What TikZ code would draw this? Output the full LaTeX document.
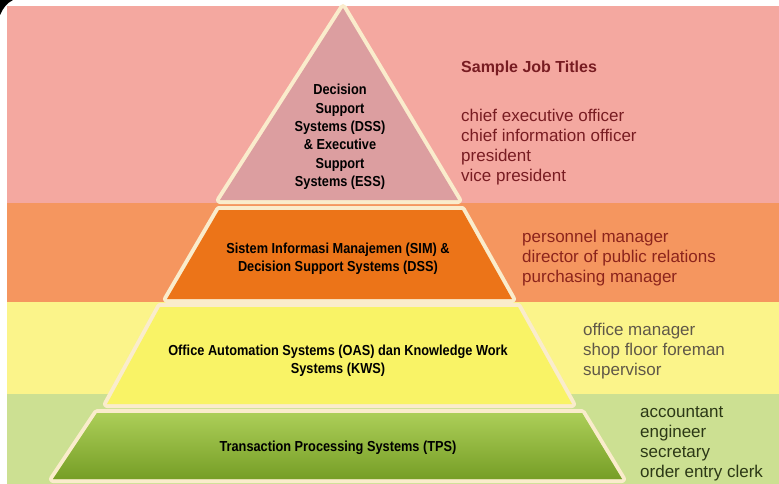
\documentclass[tikz,border=0pt]{standalone}
\usepackage{fontspec}
\setmainfont{Liberation Sans}
\newfontfamily\pyrfont{Liberation Sans}[FakeStretch=0.88]
\definecolor{bandpink}{RGB}{244,168,160}
\definecolor{bandorange}{RGB}{245,150,95}
\definecolor{bandyellow}{RGB}{251,244,138}
\definecolor{bandgreen}{RGB}{204,224,146}
\definecolor{halo}{RGB}{250,236,204}
\definecolor{levpink}{RGB}{220,158,160}
\definecolor{levorange}{RGB}{236,116,24}
\definecolor{levyellow}{RGB}{249,243,102}
\definecolor{levgreentop}{RGB}{172,206,88}
\definecolor{levgreenbot}{RGB}{118,158,38}
\definecolor{txtpink}{RGB}{120,28,34}
\definecolor{txtorange}{RGB}{140,36,28}
\definecolor{txtyellow}{RGB}{96,88,72}
\definecolor{txtgreen}{RGB}{44,56,22}
\begin{document}
\begin{tikzpicture}[
      x=1pt, y=-1pt,
      tier/.style={preaction={draw=halo,line width=8pt,line join=round},fill=#1},
      sys/.style={font=\pyrfont\bfseries\fontsize{14.5}{18.4}\selectfont,align=center,text=black,inner sep=0pt},
      job/.style={font=\fontsize{17}{20}\selectfont,align=left,anchor=west,inner sep=0pt},
      ]
      \useasboundingbox (0,0) rectangle (779,484);
      \fill[bandpink] (7,6) rectangle (779,203);
      \fill[bandorange] (7,203) rectangle (779,302);
      \fill[bandyellow] (7,302) rectangle (779,394);
      \fill[bandgreen] (7,394) rectangle (779,484);
      \fill[black] (0,0) -- (13,0) .. controls (7,3) and (3,8) .. (0,15) -- cycle;

      \path[tier=levpink] (343,8) -- (458,200) -- (220,200) -- cycle;
      \path[tier=levorange] (219,210) -- (462,210) -- (512,299) -- (167,299) -- cycle;
      \path[tier=levyellow] (160,307) -- (518,307) -- (572,404) -- (107,404) -- cycle;
      \path[tier=levgreentop,top color=levgreentop,bottom color=levgreenbot]
        (97,413) -- (582,413) -- (622,479) -- (53,479) -- cycle;

      \node[sys] (ess) at (340,137) {Decision\\Support\\Systems (DSS)\\\& Executive\\Support\\Systems (ESS)};
      \node[sys] (sim) at (338,259) {Sistem Informasi Manajemen (SIM) \&\\Decision Support Systems (DSS)};
      \node[sys] (oas) at (338,361) {Office Automation Systems (OAS) dan Knowledge Work\\Systems (KWS)};
      \node[sys] (tps) at (338,448) {Transaction Processing Systems (TPS)};

      \node[job,font=\bfseries\fontsize{16}{19}\selectfont,text=txtpink] (titles) at (461,68) {Sample Job Titles};
      \node[job,text=txtpink] (exec) at (461,147.5) {chief executive officer\\chief information officer\\president\\vice president};
      \node[job,text=txtorange] (mgr) at (522,258.5) {personnel manager\\director of public relations\\purchasing manager};
      \node[job,text=txtyellow] (ops) at (583,351.5) {office manager\\shop floor foreman\\supervisor};
      \node[job,text=txtgreen] (staff) at (640,443.5) {accountant\\engineer\\secretary\\order entry clerk};
    \end{tikzpicture}
\end{document}
